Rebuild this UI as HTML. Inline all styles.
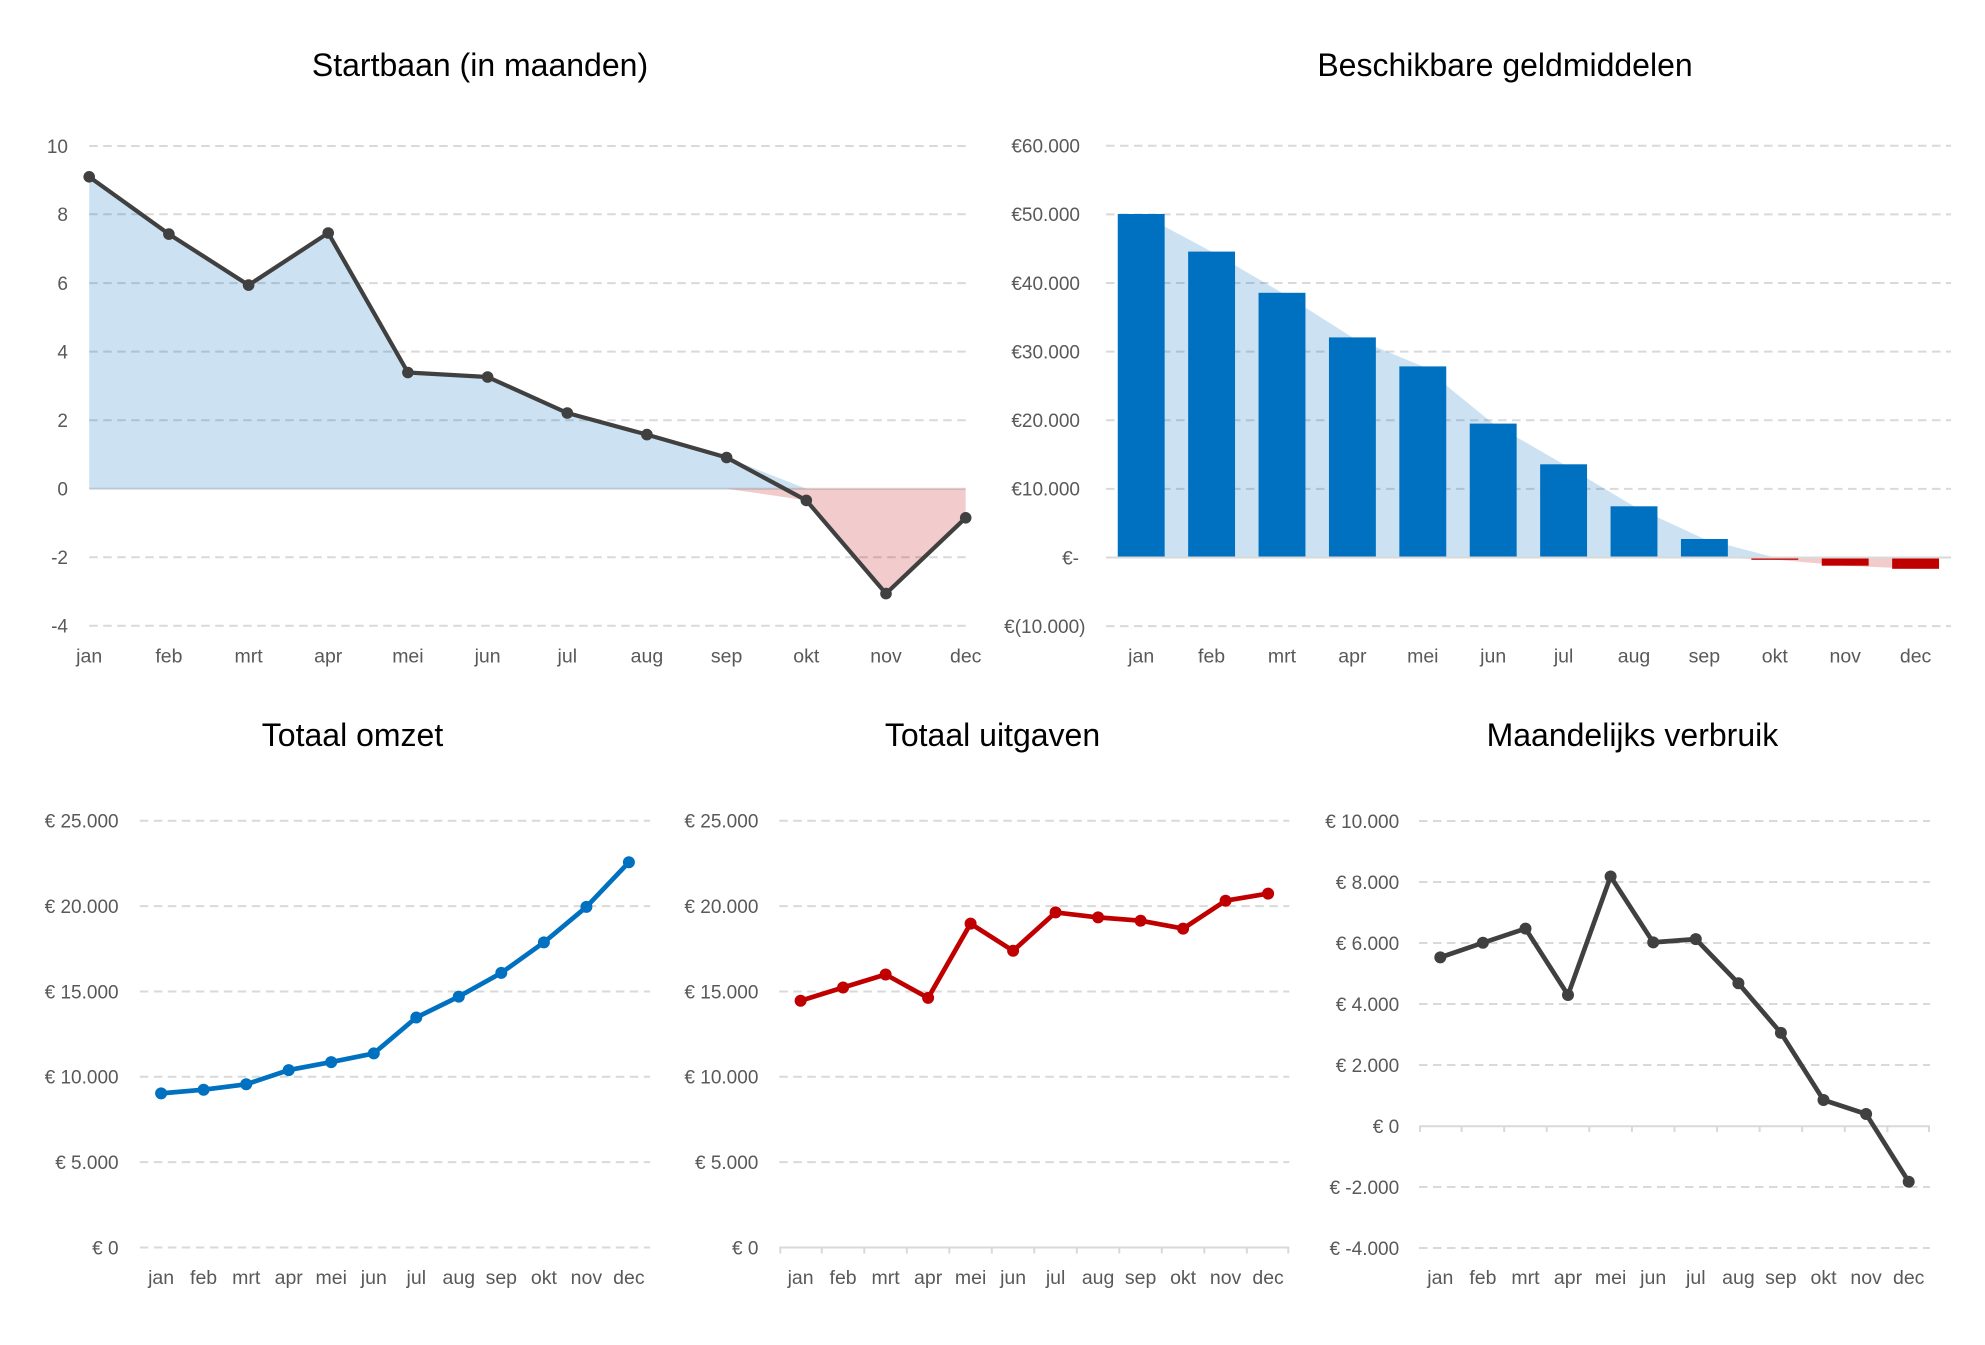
<!DOCTYPE html>
<html>
<head>
<meta charset="utf-8">
<style>
  html, body { margin: 0; padding: 0; background: #ffffff; }
  svg { display: block; }
  text { font-family: "Liberation Sans", Arial, sans-serif; }
  .title { font-size: 32px; fill: #000000; text-anchor: middle; }
  .ytick { font-size: 19px; fill: #595959; text-anchor: end; }
  .xtick { font-size: 19.5px; fill: #595959; text-anchor: middle; }
  .grid { stroke: #d9d9d9; stroke-width: 2; stroke-dasharray: 8.5 5.5; fill: none; }
  .axis { stroke: #d9d9d9; stroke-width: 2; fill: none; }
</style>
</head>
<body>
<svg width="1985" height="1345" viewBox="0 0 1985 1345" xmlns="http://www.w3.org/2000/svg">
  <rect x="0" y="0" width="1985" height="1345" fill="#ffffff"/>

  <!-- ================= Chart 1: Startbaan (in maanden) ================= -->
  <text class="title" x="480" y="76">Startbaan (in maanden)</text>
  <g>
    <line class="grid" x1="89.2" y1="146.0" x2="965.7" y2="146.0"/>
    <line class="grid" x1="89.2" y1="214.2" x2="965.7" y2="214.2"/>
    <line class="grid" x1="89.2" y1="283.1" x2="965.7" y2="283.1"/>
    <line class="grid" x1="89.2" y1="351.6" x2="965.7" y2="351.6"/>
    <line class="grid" x1="89.2" y1="420.2" x2="965.7" y2="420.2"/>
    <line class="grid" x1="89.2" y1="557.2" x2="965.7" y2="557.2"/>
    <line class="grid" x1="89.2" y1="625.8" x2="965.7" y2="625.8"/>
    <line class="axis" x1="89.2" y1="488.7" x2="965.7" y2="488.7"/>
  </g>
  <g>
    <text class="ytick" x="68" y="152.8">10</text>
    <text class="ytick" x="68" y="221.0">8</text>
    <text class="ytick" x="68" y="289.9">6</text>
    <text class="ytick" x="68" y="358.4">4</text>
    <text class="ytick" x="68" y="427.0">2</text>
    <text class="ytick" x="68" y="495.5">0</text>
    <text class="ytick" x="68" y="564.0">-2</text>
    <text class="ytick" x="68" y="632.6">-4</text>
  </g>
  <path d="M89.2,488.7 L89.2,176.8 L168.9,234.1 L248.6,285.1 L328.2,233.0 L407.9,372.5 L487.6,377.0 L567.3,413.0 L646.9,434.6 L726.6,457.5 L806.3,488.7 L965.7,488.7 Z" fill="#0070c0" fill-opacity="0.2"/>
  <path d="M726.6,488.7 L806.3,500.4 L886.0,593.6 L965.7,517.8 L965.7,488.7 Z" fill="#c00000" fill-opacity="0.2"/>
  <polyline points="89.2,176.8 168.9,234.1 248.6,285.1 328.2,233.0 407.9,372.5 487.6,377.0 567.3,413.0 646.9,434.6 726.6,457.5 806.3,500.4 886.0,593.6 965.7,517.8" fill="none" stroke="#404040" stroke-width="4.2" stroke-linejoin="round"/>
  <g fill="#404040">
    <circle cx="89.2" cy="176.8" r="5.8"/>
    <circle cx="168.9" cy="234.1" r="5.8"/>
    <circle cx="248.6" cy="285.1" r="5.8"/>
    <circle cx="328.2" cy="233.0" r="5.8"/>
    <circle cx="407.9" cy="372.5" r="5.8"/>
    <circle cx="487.6" cy="377.0" r="5.8"/>
    <circle cx="567.3" cy="413.0" r="5.8"/>
    <circle cx="646.9" cy="434.6" r="5.8"/>
    <circle cx="726.6" cy="457.5" r="5.8"/>
    <circle cx="806.3" cy="500.4" r="5.8"/>
    <circle cx="886.0" cy="593.6" r="5.8"/>
    <circle cx="965.7" cy="517.8" r="5.8"/>
  </g>
  <g>
    <text class="xtick" x="89.2" y="662.5">jan</text>
    <text class="xtick" x="168.9" y="662.5">feb</text>
    <text class="xtick" x="248.6" y="662.5">mrt</text>
    <text class="xtick" x="328.2" y="662.5">apr</text>
    <text class="xtick" x="407.9" y="662.5">mei</text>
    <text class="xtick" x="487.6" y="662.5">jun</text>
    <text class="xtick" x="567.3" y="662.5">jul</text>
    <text class="xtick" x="646.9" y="662.5">aug</text>
    <text class="xtick" x="726.6" y="662.5">sep</text>
    <text class="xtick" x="806.3" y="662.5">okt</text>
    <text class="xtick" x="886.0" y="662.5">nov</text>
    <text class="xtick" x="965.7" y="662.5">dec</text>
  </g>

  <!-- ================= Chart 2: Beschikbare geldmiddelen ================= -->
  <text class="title" x="1505" y="76">Beschikbare geldmiddelen</text>
  <g>
    <line class="grid" x1="1106" y1="145.7" x2="1951" y2="145.7"/>
    <line class="grid" x1="1106" y1="214.4" x2="1951" y2="214.4"/>
    <line class="grid" x1="1106" y1="283.0" x2="1951" y2="283.0"/>
    <line class="grid" x1="1106" y1="351.6" x2="1951" y2="351.6"/>
    <line class="grid" x1="1106" y1="420.2" x2="1951" y2="420.2"/>
    <line class="grid" x1="1106" y1="488.9" x2="1951" y2="488.9"/>
    <line class="grid" x1="1106" y1="626.1" x2="1951" y2="626.1"/>
  </g>
  <g>
    <text class="ytick" x="1080" y="152.5">€60.000</text>
    <text class="ytick" x="1080" y="221.2">€50.000</text>
    <text class="ytick" x="1080" y="289.8">€40.000</text>
    <text class="ytick" x="1080" y="358.4">€30.000</text>
    <text class="ytick" x="1080" y="427.0">€20.000</text>
    <text class="ytick" x="1080" y="495.7">€10.000</text>
    <text class="ytick" x="1079" y="564.3">€-</text>
    <text class="ytick" x="1085.5" y="632.9">€(10.000)</text>
  </g>
  <path d="M1141.2,557.5 L1141.2,214.0 L1211.6,251.6 L1282.0,292.8 L1352.4,337.4 L1422.8,366.4 L1493.2,423.6 L1563.6,464.3 L1634.0,506.3 L1704.4,539.0 L1774.8,557.5 Z" fill="#0070c0" fill-opacity="0.2"/>
  <path d="M1704.4,557.5 L1774.8,559.6 L1845.2,565.7 L1915.6,568.8 L1915.6,557.5 Z" fill="#c00000" fill-opacity="0.2"/>
  <g fill="#0070c0">
    <rect x="1117.75" y="214.0" width="46.9" height="343.5"/>
    <rect x="1188.15" y="251.6" width="46.9" height="305.9"/>
    <rect x="1258.55" y="292.8" width="46.9" height="264.7"/>
    <rect x="1328.95" y="337.4" width="46.9" height="220.1"/>
    <rect x="1399.35" y="366.4" width="46.9" height="191.1"/>
    <rect x="1469.75" y="423.6" width="46.9" height="133.9"/>
    <rect x="1540.15" y="464.3" width="46.9" height="93.2"/>
    <rect x="1610.55" y="506.3" width="46.9" height="51.2"/>
    <rect x="1680.95" y="539.0" width="46.9" height="18.5"/>
  </g>
  <g fill="#c00000">
    <rect x="1751.35" y="557.5" width="46.9" height="2.3"/>
    <rect x="1821.75" y="557.5" width="46.9" height="8.2"/>
    <rect x="1892.15" y="557.5" width="46.9" height="11.3"/>
  </g>
  <line class="axis" x1="1106" y1="557.5" x2="1951" y2="557.5"/>
  <g>
    <text class="xtick" x="1141.2" y="662.5">jan</text>
    <text class="xtick" x="1211.6" y="662.5">feb</text>
    <text class="xtick" x="1282.0" y="662.5">mrt</text>
    <text class="xtick" x="1352.4" y="662.5">apr</text>
    <text class="xtick" x="1422.8" y="662.5">mei</text>
    <text class="xtick" x="1493.2" y="662.5">jun</text>
    <text class="xtick" x="1563.6" y="662.5">jul</text>
    <text class="xtick" x="1634.0" y="662.5">aug</text>
    <text class="xtick" x="1704.4" y="662.5">sep</text>
    <text class="xtick" x="1774.8" y="662.5">okt</text>
    <text class="xtick" x="1845.2" y="662.5">nov</text>
    <text class="xtick" x="1915.6" y="662.5">dec</text>
  </g>

  <!-- ================= Chart 3: Totaal omzet ================= -->
  <text class="title" x="352.5" y="746">Totaal omzet</text>
  <g>
    <line class="grid" x1="139.8" y1="820.75" x2="650.2" y2="820.75"/>
    <line class="grid" x1="139.8" y1="906.1" x2="650.2" y2="906.1"/>
    <line class="grid" x1="139.8" y1="991.45" x2="650.2" y2="991.45"/>
    <line class="grid" x1="139.8" y1="1076.8" x2="650.2" y2="1076.8"/>
    <line class="grid" x1="139.8" y1="1162.15" x2="650.2" y2="1162.15"/>
    <line class="grid" x1="139.8" y1="1247.5" x2="650.2" y2="1247.5"/>
  </g>
  <g>
    <text class="ytick" x="118.6" y="827.55">€ 25.000</text>
    <text class="ytick" x="118.6" y="912.9">€ 20.000</text>
    <text class="ytick" x="118.6" y="998.25">€ 15.000</text>
    <text class="ytick" x="118.6" y="1083.6">€ 10.000</text>
    <text class="ytick" x="118.6" y="1168.95">€ 5.000</text>
    <text class="ytick" x="118.6" y="1254.3">€ 0</text>
  </g>
  <polyline points="161.1,1093.4 203.6,1089.7 246.2,1084.3 288.7,1070.1 331.2,1062.1 373.8,1053.4 416.3,1017.5 458.8,996.6 501.3,972.9 543.9,942.4 586.4,906.9 628.9,862.3" fill="none" stroke="#0070c0" stroke-width="4.7" stroke-linejoin="round"/>
  <g fill="#0070c0">
    <circle cx="161.1" cy="1093.4" r="6"/>
    <circle cx="203.6" cy="1089.7" r="6"/>
    <circle cx="246.2" cy="1084.3" r="6"/>
    <circle cx="288.7" cy="1070.1" r="6"/>
    <circle cx="331.2" cy="1062.1" r="6"/>
    <circle cx="373.8" cy="1053.4" r="6"/>
    <circle cx="416.3" cy="1017.5" r="6"/>
    <circle cx="458.8" cy="996.6" r="6"/>
    <circle cx="501.3" cy="972.9" r="6"/>
    <circle cx="543.9" cy="942.4" r="6"/>
    <circle cx="586.4" cy="906.9" r="6"/>
    <circle cx="628.9" cy="862.3" r="6"/>
  </g>
  <g>
    <text class="xtick" x="161.1" y="1284">jan</text>
    <text class="xtick" x="203.6" y="1284">feb</text>
    <text class="xtick" x="246.2" y="1284">mrt</text>
    <text class="xtick" x="288.7" y="1284">apr</text>
    <text class="xtick" x="331.2" y="1284">mei</text>
    <text class="xtick" x="373.8" y="1284">jun</text>
    <text class="xtick" x="416.3" y="1284">jul</text>
    <text class="xtick" x="458.8" y="1284">aug</text>
    <text class="xtick" x="501.3" y="1284">sep</text>
    <text class="xtick" x="543.9" y="1284">okt</text>
    <text class="xtick" x="586.4" y="1284">nov</text>
    <text class="xtick" x="628.9" y="1284">dec</text>
  </g>

  <!-- ================= Chart 4: Totaal uitgaven ================= -->
  <text class="title" x="992.5" y="746">Totaal uitgaven</text>
  <g>
    <line class="grid" x1="779.3" y1="820.75" x2="1289.3" y2="820.75"/>
    <line class="grid" x1="779.3" y1="906.1" x2="1289.3" y2="906.1"/>
    <line class="grid" x1="779.3" y1="991.45" x2="1289.3" y2="991.45"/>
    <line class="grid" x1="779.3" y1="1076.8" x2="1289.3" y2="1076.8"/>
    <line class="grid" x1="779.3" y1="1162.15" x2="1289.3" y2="1162.15"/>
    <line class="axis" x1="779.3" y1="1247.5" x2="1289.3" y2="1247.5"/>
  </g>
  <g stroke="#d9d9d9" stroke-width="2">
    <line x1="780.3" y1="1247.5" x2="780.3" y2="1253.5"/>
    <line x1="821.8" y1="1247.5" x2="821.8" y2="1253.5"/>
    <line x1="864.3" y1="1247.5" x2="864.3" y2="1253.5"/>
    <line x1="906.8" y1="1247.5" x2="906.8" y2="1253.5"/>
    <line x1="949.3" y1="1247.5" x2="949.3" y2="1253.5"/>
    <line x1="991.8" y1="1247.5" x2="991.8" y2="1253.5"/>
    <line x1="1034.3" y1="1247.5" x2="1034.3" y2="1253.5"/>
    <line x1="1076.8" y1="1247.5" x2="1076.8" y2="1253.5"/>
    <line x1="1119.3" y1="1247.5" x2="1119.3" y2="1253.5"/>
    <line x1="1161.8" y1="1247.5" x2="1161.8" y2="1253.5"/>
    <line x1="1204.3" y1="1247.5" x2="1204.3" y2="1253.5"/>
    <line x1="1246.8" y1="1247.5" x2="1246.8" y2="1253.5"/>
    <line x1="1288.3" y1="1247.5" x2="1288.3" y2="1253.5"/>
  </g>
  <g>
    <text class="ytick" x="758.4" y="827.55">€ 25.000</text>
    <text class="ytick" x="758.4" y="912.9">€ 20.000</text>
    <text class="ytick" x="758.4" y="998.25">€ 15.000</text>
    <text class="ytick" x="758.4" y="1083.6">€ 10.000</text>
    <text class="ytick" x="758.4" y="1168.95">€ 5.000</text>
    <text class="ytick" x="758.4" y="1254.3">€ 0</text>
  </g>
  <polyline points="800.6,1000.8 843.1,987.5 885.6,974.5 928.1,997.9 970.6,923.6 1013.1,950.8 1055.6,912.4 1098.1,917.4 1140.6,920.7 1183.1,928.6 1225.6,900.7 1268.1,893.6" fill="none" stroke="#c00000" stroke-width="4.7" stroke-linejoin="round"/>
  <g fill="#c00000">
    <circle cx="800.6" cy="1000.8" r="6"/>
    <circle cx="843.1" cy="987.5" r="6"/>
    <circle cx="885.6" cy="974.5" r="6"/>
    <circle cx="928.1" cy="997.9" r="6"/>
    <circle cx="970.6" cy="923.6" r="6"/>
    <circle cx="1013.1" cy="950.8" r="6"/>
    <circle cx="1055.6" cy="912.4" r="6"/>
    <circle cx="1098.1" cy="917.4" r="6"/>
    <circle cx="1140.6" cy="920.7" r="6"/>
    <circle cx="1183.1" cy="928.6" r="6"/>
    <circle cx="1225.6" cy="900.7" r="6"/>
    <circle cx="1268.1" cy="893.6" r="6"/>
  </g>
  <g>
    <text class="xtick" x="800.6" y="1284">jan</text>
    <text class="xtick" x="843.1" y="1284">feb</text>
    <text class="xtick" x="885.6" y="1284">mrt</text>
    <text class="xtick" x="928.1" y="1284">apr</text>
    <text class="xtick" x="970.6" y="1284">mei</text>
    <text class="xtick" x="1013.1" y="1284">jun</text>
    <text class="xtick" x="1055.6" y="1284">jul</text>
    <text class="xtick" x="1098.1" y="1284">aug</text>
    <text class="xtick" x="1140.6" y="1284">sep</text>
    <text class="xtick" x="1183.1" y="1284">okt</text>
    <text class="xtick" x="1225.6" y="1284">nov</text>
    <text class="xtick" x="1268.1" y="1284">dec</text>
  </g>

  <!-- ================= Chart 5: Maandelijks verbruik ================= -->
  <text class="title" x="1632.4" y="746">Maandelijks verbruik</text>
  <g>
    <line class="grid" x1="1419" y1="821.0" x2="1930" y2="821.0"/>
    <line class="grid" x1="1419" y1="882.0" x2="1930" y2="882.0"/>
    <line class="grid" x1="1419" y1="943.0" x2="1930" y2="943.0"/>
    <line class="grid" x1="1419" y1="1004.0" x2="1930" y2="1004.0"/>
    <line class="grid" x1="1419" y1="1065.0" x2="1930" y2="1065.0"/>
    <line class="grid" x1="1419" y1="1187.0" x2="1930" y2="1187.0"/>
    <line class="grid" x1="1419" y1="1248.0" x2="1930" y2="1248.0"/>
    <line class="axis" x1="1419" y1="1126.3" x2="1930" y2="1126.3"/>
  </g>
  <g stroke="#d9d9d9" stroke-width="2">
    <line x1="1420" y1="1126.3" x2="1420" y2="1132"/>
    <line x1="1461.6" y1="1126.3" x2="1461.6" y2="1132"/>
    <line x1="1504.2" y1="1126.3" x2="1504.2" y2="1132"/>
    <line x1="1546.7" y1="1126.3" x2="1546.7" y2="1132"/>
    <line x1="1589.3" y1="1126.3" x2="1589.3" y2="1132"/>
    <line x1="1631.9" y1="1126.3" x2="1631.9" y2="1132"/>
    <line x1="1674.5" y1="1126.3" x2="1674.5" y2="1132"/>
    <line x1="1717.1" y1="1126.3" x2="1717.1" y2="1132"/>
    <line x1="1759.6" y1="1126.3" x2="1759.6" y2="1132"/>
    <line x1="1802.2" y1="1126.3" x2="1802.2" y2="1132"/>
    <line x1="1844.8" y1="1126.3" x2="1844.8" y2="1132"/>
    <line x1="1887.4" y1="1126.3" x2="1887.4" y2="1132"/>
    <line x1="1929" y1="1126.3" x2="1929" y2="1132"/>
  </g>
  <g>
    <text class="ytick" x="1399.2" y="827.8">€ 10.000</text>
    <text class="ytick" x="1399.2" y="888.8">€ 8.000</text>
    <text class="ytick" x="1399.2" y="949.8">€ 6.000</text>
    <text class="ytick" x="1399.2" y="1010.8">€ 4.000</text>
    <text class="ytick" x="1399.2" y="1071.8">€ 2.000</text>
    <text class="ytick" x="1399.2" y="1133.1">€ 0</text>
    <text class="ytick" x="1399.2" y="1193.8">€ -2.000</text>
    <text class="ytick" x="1399.2" y="1254.8">€ -4.000</text>
  </g>
  <polyline points="1440.3,957.4 1482.9,942.8 1525.5,928.6 1568.0,995.0 1610.6,876.5 1653.2,942.4 1695.8,939.1 1738.4,983.3 1780.9,1032.9 1823.5,1100.0 1866.1,1114.0 1908.7,1181.7" fill="none" stroke="#404040" stroke-width="4.7" stroke-linejoin="round"/>
  <g fill="#404040">
    <circle cx="1440.3" cy="957.4" r="6"/>
    <circle cx="1482.9" cy="942.8" r="6"/>
    <circle cx="1525.5" cy="928.6" r="6"/>
    <circle cx="1568.0" cy="995.0" r="6"/>
    <circle cx="1610.6" cy="876.5" r="6"/>
    <circle cx="1653.2" cy="942.4" r="6"/>
    <circle cx="1695.8" cy="939.1" r="6"/>
    <circle cx="1738.4" cy="983.3" r="6"/>
    <circle cx="1780.9" cy="1032.9" r="6"/>
    <circle cx="1823.5" cy="1100.0" r="6"/>
    <circle cx="1866.1" cy="1114.0" r="6"/>
    <circle cx="1908.7" cy="1181.7" r="6"/>
  </g>
  <g>
    <text class="xtick" x="1440.3" y="1284">jan</text>
    <text class="xtick" x="1482.9" y="1284">feb</text>
    <text class="xtick" x="1525.5" y="1284">mrt</text>
    <text class="xtick" x="1568.0" y="1284">apr</text>
    <text class="xtick" x="1610.6" y="1284">mei</text>
    <text class="xtick" x="1653.2" y="1284">jun</text>
    <text class="xtick" x="1695.8" y="1284">jul</text>
    <text class="xtick" x="1738.4" y="1284">aug</text>
    <text class="xtick" x="1780.9" y="1284">sep</text>
    <text class="xtick" x="1823.5" y="1284">okt</text>
    <text class="xtick" x="1866.1" y="1284">nov</text>
    <text class="xtick" x="1908.7" y="1284">dec</text>
  </g>
</svg>
</body>
</html>
